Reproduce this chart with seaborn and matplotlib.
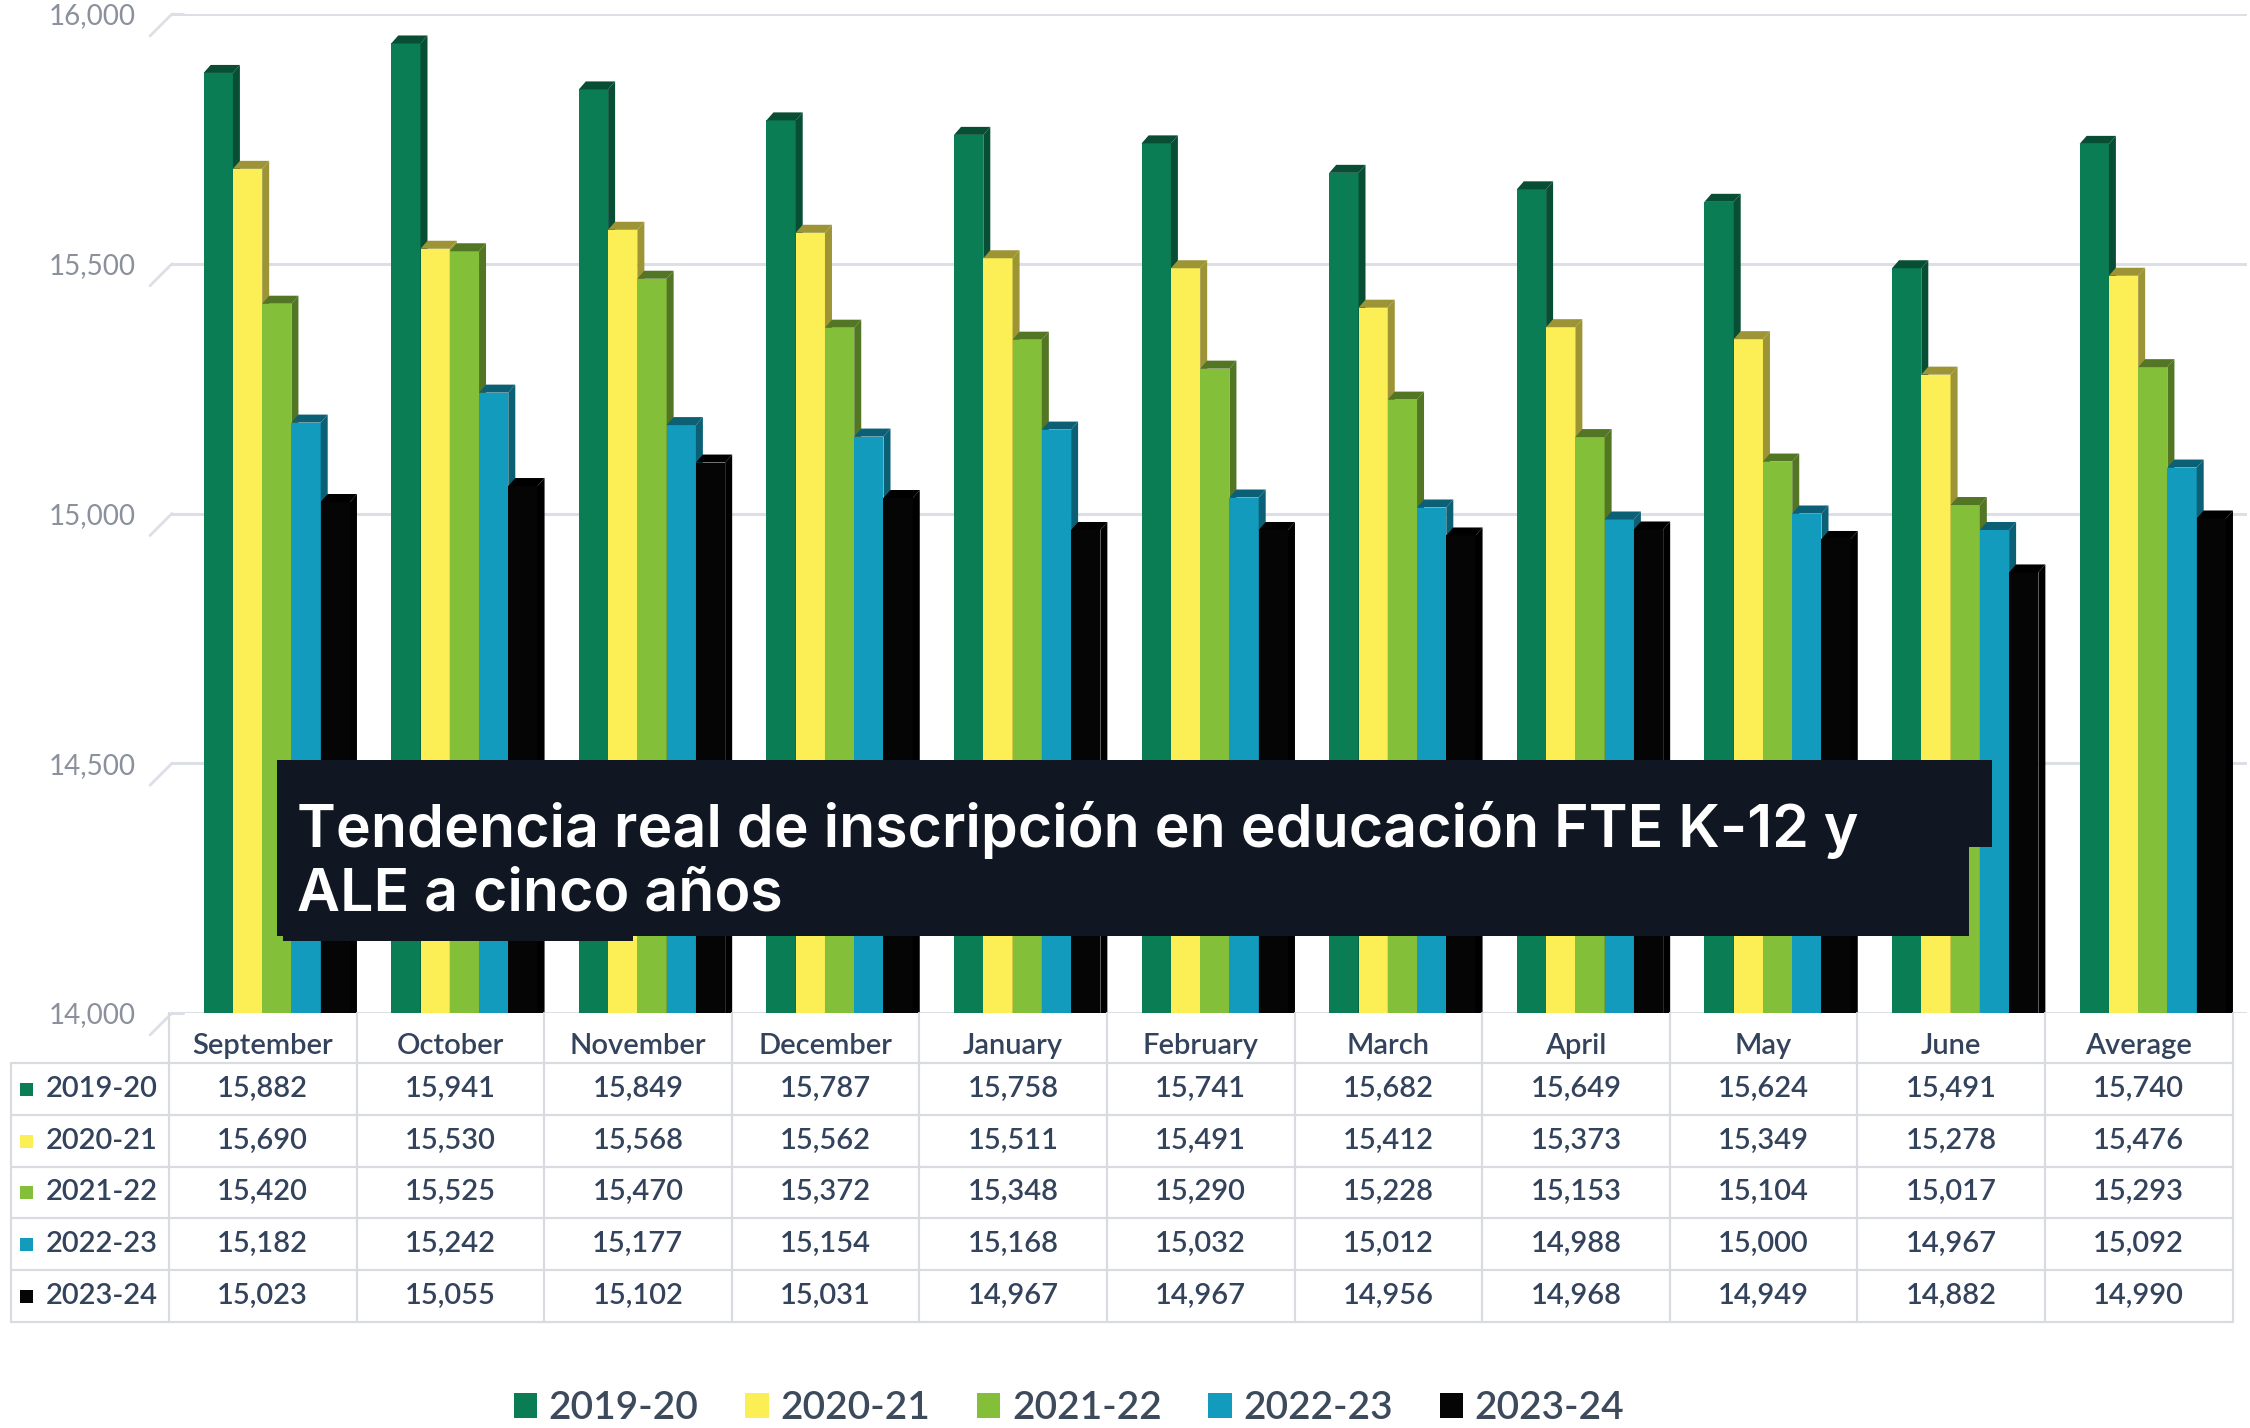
import matplotlib
matplotlib.use("Agg")
import matplotlib.pyplot as plt
from matplotlib.patches import Polygon, Rectangle
from matplotlib.lines import Line2D
import matplotlib.colors as mcolors
import seaborn as sns
import pandas as pd
import numpy as np

# ---------------- data ----------------
months = ["September", "October", "November", "December", "January", "February",
          "March", "April", "May", "June", "Average"]
series_names = ["2019-20", "2020-21", "2021-22", "2022-23", "2023-24"]
v_2019_20 = [15882, 15941, 15849, 15787, 15758, 15741, 15682, 15649, 15624, 15491, 15740]
v_2020_21 = [15690, 15530, 15568, 15562, 15511, 15491, 15412, 15373, 15349, 15278, 15476]
v_2021_22 = [15420, 15525, 15470, 15372, 15348, 15290, 15228, 15153, 15104, 15017, 15293]
v_2022_23 = [15182, 15242, 15177, 15154, 15168, 15032, 15012, 14988, 15000, 14967, 15092]
v_2023_24 = [15023, 15055, 15102, 15031, 14967, 14967, 14956, 14968, 14949, 14882, 14990]
y_ticks = [14000, 14500, 15000, 15500, 16000]
title = "Tendencia real de inscripción en educación FTE K-12 y\nALE a cinco años"

colors = ["#0b7d55", "#fbef55", "#84bf39", "#129bbd", "#050505"]
all_values = [v_2019_20, v_2020_21, v_2021_22, v_2022_23, v_2023_24]

df = pd.DataFrame({
    "month": np.repeat([months], 5, axis=0).ravel(),
    "series": np.repeat(series_names, len(months)),
    "value": np.concatenate(all_values),
})

# ---------------- figure ----------------
W, H = 2250, 1428
sns.set_theme(style="white")
plt.rcParams["font.family"] = ["Lato", "DejaVu Sans"]
fig = plt.figure(figsize=(W / 100, H / 100), dpi=100)
fig.patch.set_facecolor("white")

def fx(px):
    return px / W

def fy(py):
    return 1 - py / H

# table geometry (pixels)
tab_left = 11
lab_right = 169
col_w = 187.6
ncol = len(months)
tab_right = lab_right + col_w * ncol
bar_shift = 14

# axes: y 16000 at py=14, 14000 at py=1013
ax_left = lab_right + bar_shift
ax = fig.add_axes([fx(ax_left), fy(1013), fx(col_w * ncol), (1013 - 14) / H])

sns.barplot(data=df, x="month", y="value", hue="series", order=months,
            hue_order=series_names, palette=colors, width=0.78, gap=0,
            saturation=1, ax=ax, edgecolor="none", linewidth=0, legend=True)

ax.set_ylim(14000, 16000)
ax.set_xlim(-0.5, ncol - 0.5)
ax.set_yticks(y_ticks)
ax.set_yticklabels([f"{t:,}" for t in y_ticks], color="#8a909c", fontsize=20)
ax.tick_params(axis="y", length=0, pad=34)
ax.set_xticks([])
ax.set_xlabel("")
ax.set_ylabel("")
for s in ax.spines.values():
    s.set_visible(False)
ax.grid(axis="y", color="#dcdfe6", linewidth=2.2)
ax.set_axisbelow(True)

# small slanted grid stubs (pseudo-3D wall edge)
for t in y_ticks:
    yp = 14 + (16000 - t) / 2000 * 999
    fig.add_artist(Line2D([fx(150), fx(172)], [fy(yp + 22), fy(yp)],
                          color="#dcdfe6", lw=2.0, transform=fig.transFigure))
    fig.add_artist(Line2D([fx(172), fx(ax_left)], [fy(yp), fy(yp)],
                          color="#dcdfe6", lw=2.2, transform=fig.transFigure))

# pseudo-3D faces derived from the drawn bars
dx = 7 / col_w
dy = 8 * (2000 / 999)
for hi, cont in enumerate(ax.containers):
    base = colors[hi]
    rgb = np.array(mcolors.to_rgb(base))
    dark = tuple(rgb * 0.62) if hi != 4 else (0, 0, 0)
    for p in cont.patches:
        p.set_zorder(2 + hi * 0.1)
        x0 = p.get_x()
        x1 = x0 + p.get_width()
        top = p.get_y() + p.get_height()
        bot = 13800
        side = Polygon([(x1, bot), (x1 + dx, bot + dy), (x1 + dx, top + dy), (x1, top)],
                       closed=True, facecolor=dark, edgecolor="none", zorder=2 + hi * 0.1 + 0.05)
        topf = Polygon([(x0, top), (x0 + dx, top + dy), (x1 + dx, top + dy), (x1, top)],
                       closed=True, facecolor=dark, edgecolor="none", zorder=2 + hi * 0.1 + 0.05)
        ax.add_patch(side)
        ax.add_patch(topf)

handles, labels = ax.get_legend_handles_labels()
ax.get_legend().remove()
leg = fig.legend(handles, labels, ncol=5, loc="center",
                 bbox_to_anchor=(fx(1069), fy(1408)), frameon=False,
                 prop={"size": 28, "weight": "semibold"}, handlelength=0.6, handleheight=0.6,
                 handletextpad=0.3, columnspacing=1.2)
for t in leg.get_texts():
    t.set_color("#3d4a5c")

# ---------------- data table ----------------
tcol = "#34435c"
line_c = "#d9dbe0"
row_h = 51.7
header_y = 1046
row_y0 = 1089
# horizontal lines
hlines = [row_y0 - row_h / 2 + k * row_h for k in range(6)]
for yy in hlines:
    fig.add_artist(Line2D([fx(tab_left), fx(tab_right)], [fy(yy), fy(yy)],
                          color=line_c, lw=1.6, transform=fig.transFigure))
# vertical lines
fig.add_artist(Line2D([fx(tab_left), fx(tab_left)], [fy(hlines[0]), fy(hlines[-1])],
                      color=line_c, lw=1.6, transform=fig.transFigure))
for k in range(ncol + 1):
    xx = lab_right + k * col_w
    fig.add_artist(Line2D([fx(xx), fx(xx)], [fy(1013), fy(hlines[-1])],
                          color=line_c, lw=1.6, transform=fig.transFigure))
# headers
for k, m in enumerate(months):
    fig.text(fx(lab_right + (k + 0.5) * col_w), fy(header_y), m, ha="center", va="center",
             fontsize=21, color=tcol, fontweight="semibold")
# rows
for r, (name, vals) in enumerate(zip(series_names, all_values)):
    yy = row_y0 + r * row_h
    fig.add_artist(Rectangle((fx(20), fy(yy + 7)), fx(13), 13 / H,
                             facecolor=colors[r], edgecolor="none",
                             transform=fig.transFigure))
    fig.text(fx(46), fy(yy), name, ha="left", va="center", fontsize=21, color=tcol,
             fontweight="semibold")
    for k, v in enumerate(vals):
        fig.text(fx(lab_right + (k + 0.5) * col_w), fy(yy), f"{v:,}", ha="center",
                 va="center", fontsize=21, color=tcol, fontweight="semibold")

# ---------------- title overlay ----------------
box_c = "#111722"
fig.add_artist(Rectangle((fx(277), fy(936)), fx(1969 - 277), (936 - 760) / H,
                         facecolor=box_c, edgecolor="none", transform=fig.transFigure, zorder=10))
fig.add_artist(Rectangle((fx(1940), fy(847)), fx(1992 - 1940), (847 - 760) / H,
                         facecolor=box_c, edgecolor="none", transform=fig.transFigure, zorder=10))
fig.add_artist(Rectangle((fx(283), fy(941)), fx(633 - 283), 6 / H,
                         facecolor=box_c, edgecolor="none", transform=fig.transFigure, zorder=10))
fig.text(fx(297), fy(862), title, ha="left", va="center", fontsize=42.5,
         color="white", family=["Inter", "DejaVu Sans"], fontweight="semibold",
         linespacing=1.2, zorder=11)

fig.savefig("out.png", dpi=100, facecolor="white")
